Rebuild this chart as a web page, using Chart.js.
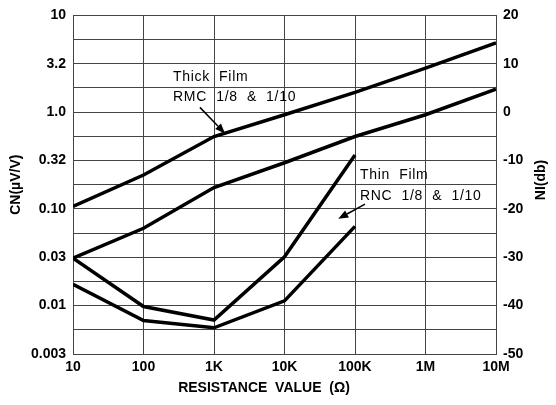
<!DOCTYPE html>
<html>
<head>
<meta charset="utf-8">
<script src="https://cdn.jsdelivr.net/npm/chart.js@4.4.0/dist/chart.umd.min.js"></script>
<style>
  html, body { margin: 0; padding: 0; background: #fff; }
  #wrap { width: 556px; height: 405px; position: relative; }
</style>
</head>
<body>
<div id="wrap"><canvas id="chart"></canvas></div>
<script>
// resistance (ohm), decade ticks
const resistance = [10, 100, 1e3, 1e4, 1e5, 1e6, 1e7];
const resistanceLabels = ['10', '100', '1K', '10K', '100K', '1M', '10M'];

// CN in uV/V
const thickUpper = [0.106, 0.224, 0.56, 0.94, 1.6, 2.85, 5.2];
const thickLower = [0.031, 0.063, 0.166, 0.30, 0.56, 0.94, 1.73];
const thinUpper = [0.031, 0.0098, 0.0071, 0.032, 0.36];
const thinLower = [0.0166, 0.0070, 0.0059, 0.0112, 0.066];

// grid every 5 dB, labels every 10 dB
const niGrid = [-50, -45, -40, -35, -30, -25, -20, -15, -10, -5, 0, 5, 10, 15, 20];
const cnLabels = ['0.003', '', '0.01', '', '0.03', '', '0.10', '', '0.32', '', '1.0', '', '3.2', '', '10'];
const niTicks = [-50, -40, -30, -20, -10, 0, 10, 20];

const notes = [
    { text: 'Thick  Film', x: 262, y: 2.31 },
    { text: 'RMC  1/8  &  1/10', x: 262, y: 1.43 },
    { text: 'Thin  Film', x: 117500, y: 0.2245 },
    { text: 'RNC  1/8  &  1/10', x: 117500, y: 0.137 }
];
const arrows = [
    { from: [631, 1.12], to: [1432, 0.601] },
    { from: [138700, 0.112], to: [57900, 0.0789] }
];

const dbToCn = db => Math.pow(10, db / 20);
const toPoints = (vals) => vals.map((v, i) => ({ x: resistance[i], y: v }));

const lineStyle = {
    borderColor: '#000',
    borderWidth: 3.5,
    pointRadius: 0,
    tension: 0,
    fill: false
};

const gridColor = '#444';
const tickFont = { family: '"Liberation Sans", Arial, sans-serif', size: 14, weight: 'bold' };

const notesPlugin = {
    id: 'notes',
    afterDatasetsDraw(chart) {
        const ctx = chart.ctx;
        const xs = chart.scales.x, ys = chart.scales.y;
        ctx.save();
        ctx.fillStyle = '#000';
        ctx.font = '14px "Liberation Sans", Arial, sans-serif';
        ctx.letterSpacing = '0.7px';
        ctx.textAlign = 'left';
        ctx.textBaseline = 'middle';
        notes.forEach(n => {
            ctx.fillText(n.text, xs.getPixelForValue(n.x), ys.getPixelForValue(n.y));
        });
        ctx.strokeStyle = '#000';
        ctx.lineWidth = 1.5;
        arrows.forEach(a => {
            const x1 = xs.getPixelForValue(a.from[0]), y1 = ys.getPixelForValue(a.from[1]);
            const x2 = xs.getPixelForValue(a.to[0]), y2 = ys.getPixelForValue(a.to[1]);
            const ang = Math.atan2(y2 - y1, x2 - x1);
            const len = 10, half = 4;
            const bx = x2 - len * Math.cos(ang), by = y2 - len * Math.sin(ang);
            ctx.beginPath();
            ctx.moveTo(x1, y1);
            ctx.lineTo(bx, by);
            ctx.stroke();
            ctx.beginPath();
            ctx.moveTo(x2, y2);
            ctx.lineTo(bx + half * Math.sin(ang), by - half * Math.cos(ang));
            ctx.lineTo(bx - half * Math.sin(ang), by + half * Math.cos(ang));
            ctx.closePath();
            ctx.fill();
        });
        // axis titles drawn by hand: x title sits left of centre, NI reads bottom to top
        ctx.letterSpacing = '0px';
        ctx.font = 'bold 14px "Liberation Sans", Arial, sans-serif';
        ctx.textAlign = 'center';
        ctx.fillText('RESISTANCE  VALUE  (\u03A9)', 264, 388);
        ctx.translate(541, 180);
        ctx.rotate(-Math.PI / 2);
        ctx.fillText('NI(db)', 0, 0);
        ctx.restore();
    }
};

new Chart(document.getElementById('chart'), {
    type: 'line',
    data: {
        datasets: [
            { label: 'Thick Film RMC 1/8 & 1/10 (upper)', data: toPoints(thickUpper), ...lineStyle },
            { label: 'Thick Film RMC 1/8 & 1/10 (lower)', data: toPoints(thickLower), ...lineStyle },
            { label: 'Thin Film RNC 1/8 & 1/10 (upper)', data: toPoints(thinUpper), ...lineStyle },
            { label: 'Thin Film RNC 1/8 & 1/10 (lower)', data: toPoints(thinLower), ...lineStyle }
        ]
    },
    options: {
        responsive: true,
        maintainAspectRatio: false,
        animation: false,
        layout: { padding: { top: 10, left: 0, right: 0, bottom: 0 } },
        plugins: {
            legend: { display: false },
            tooltip: { enabled: false }
        },
        scales: {
            x: {
                type: 'logarithmic',
                min: 10,
                max: 1e7,
                afterBuildTicks: scale => { scale.ticks = resistance.map(v => ({ value: v })); },
                afterFit: scale => { scale.height = 51; },
                ticks: {
                    autoSkip: false,
                    maxRotation: 0,
                    padding: 5,
                    color: '#000',
                    font: tickFont,
                    callback: (value, index) => resistanceLabels[index]
                },
                grid: { color: gridColor, lineWidth: 1, drawTicks: false },
                border: { color: gridColor }
            },
            y: {
                type: 'logarithmic',
                position: 'left',
                min: dbToCn(-50),
                max: 10,
                afterBuildTicks: scale => { scale.ticks = niGrid.map(db => ({ value: dbToCn(db) })); },
                afterFit: scale => { scale.width = 73; },
                ticks: {
                    autoSkip: false,
                    padding: 7,
                    color: '#000',
                    font: tickFont,
                    callback: (value, index) => cnLabels[index]
                },
                grid: { color: gridColor, lineWidth: 1, drawTicks: false },
                border: { color: gridColor },
                title: {
                    display: true,
                    text: 'CN(\u00B5V/V)',
                    color: '#000',
                    font: tickFont,
                    padding: { top: 8, bottom: 0 }
                }
            },
            y2: {
                type: 'linear',
                position: 'right',
                min: -50,
                max: 20,
                afterBuildTicks: scale => { scale.ticks = niTicks.map(v => ({ value: v })); },
                afterFit: scale => { scale.width = 60; },
                ticks: {
                    autoSkip: false,
                    padding: 7,
                    color: '#000',
                    font: tickFont,
                    callback: value => String(value)
                },
                grid: { display: false, drawTicks: false },
                border: { color: gridColor }
            }
        }
    },
    plugins: [notesPlugin]
});
</script>
</body>
</html>
